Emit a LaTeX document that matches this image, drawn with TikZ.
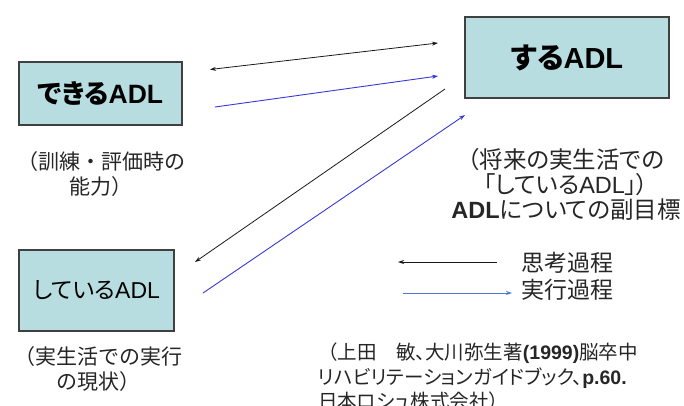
\documentclass[tikz,border=0pt]{standalone}
\usepackage{fontspec}
\usetikzlibrary{arrows.meta}
\newfontfamily\jp[RawFeature=+palt]{Noto Sans CJK JP}
\newfontfamily\jpw{Noto Sans CJK JP}
\newfontfamily\lat{Liberation Sans}
\definecolor{boxfill}{HTML}{B7DDE1}
\definecolor{boxline}{HTML}{404040}
\definecolor{exblue}{HTML}{3838D8}
\definecolor{legblue}{HTML}{4A78D8}
\tikzset{
  adlbox/.style={draw=boxline, line width=1.3pt, fill=boxfill, inner sep=0pt},
  note/.style={font=\jpw\fontsize{21}{25}\selectfont, align=center, inner sep=0pt, text=black!85},
  think/.style={draw=black!90, line width=0.8pt, -{Stealth[length=6pt,width=4pt]}},
  exec/.style={draw=exblue, line width=0.9pt, -{Stealth[length=6pt,width=4pt]}},
}
\begin{document}
\begin{tikzpicture}[x=1pt,y=-1pt]
\useasboundingbox (0,0) rectangle (684,405);
\clip (0,0) rectangle (684,405);
% boxes
\node[adlbox, minimum width=163pt, minimum height=63pt, font=\jp\bfseries\fontsize{26.5}{28}\selectfont] (dekiru) at (100.5,93.5) {できる{\lat\bfseries ADL}};
\node[adlbox, minimum width=204pt, minimum height=81pt, font=\jp\bfseries\fontsize{29}{30}\selectfont] (suru) at (567,57.5) {する{\lat\bfseries ADL}};
\node[adlbox, minimum width=155pt, minimum height=81pt, font=\jp\fontsize{23}{26}\selectfont] (shite) at (96.5,290.5) {している{\lat ADL}};
% notes
\node[note] (n1) at (101,174) {（訓練・評価時の\\能力）};
\node[note] (n2) at (98,369) {（実生活での実行\\の現状）};
\node[note, font=\jp\fontsize{23.5}{25}\selectfont] (n3) at (566,184) {（将来の実生活での\\「している{\lat ADL}」）\\{\lat\bfseries ADL}についての副目標};
% arrows
\coordinate (a1s) at (210,69.5);
\coordinate (a1e) at (438,43);
\coordinate (b1s) at (215,107);
\coordinate (b1e) at (438,76);
\coordinate (a2s) at (445,89);
\coordinate (a2e) at (195,262);
\coordinate (b2s) at (203,293);
\coordinate (b2e) at (465,115);
\draw[think, {Stealth[length=6pt,width=4pt]}-{Stealth[length=6pt,width=4pt]}] (a1s) -- (a1e);
\draw[exec] (b1s) -- (b1e);
\draw[think] (a2s) -- (a2e);
\draw[exec] (b2s) -- (b2e);
% legend
\coordinate (l1s) at (497,262);
\coordinate (l1e) at (398,262);
\coordinate (l2s) at (403,293);
\coordinate (l2e) at (512,293);
\draw[think] (l1s) -- (l1e);
\draw[exec, draw=legblue] (l2s) -- (l2e);
\node[note, anchor=west, font=\jp\fontsize{23}{25}\selectfont] (t1) at (521,263) {思考過程};
\node[note, anchor=west, font=\jp\fontsize{23}{25}\selectfont] (t2) at (521,290) {実行過程};
% citation
\node[note, anchor=north west, align=left, font=\jp\fontsize{19.5}{24.5}\selectfont] (cite) at (318,343)
  {{\jpw （}上田　敏、大川弥生著{\lat\bfseries (1999)}脳卒中\\リハビリテーションガイドブック、{\lat\bfseries p.60.}\\日本ロシュ株式会社）};
\end{tikzpicture}
\end{document}
